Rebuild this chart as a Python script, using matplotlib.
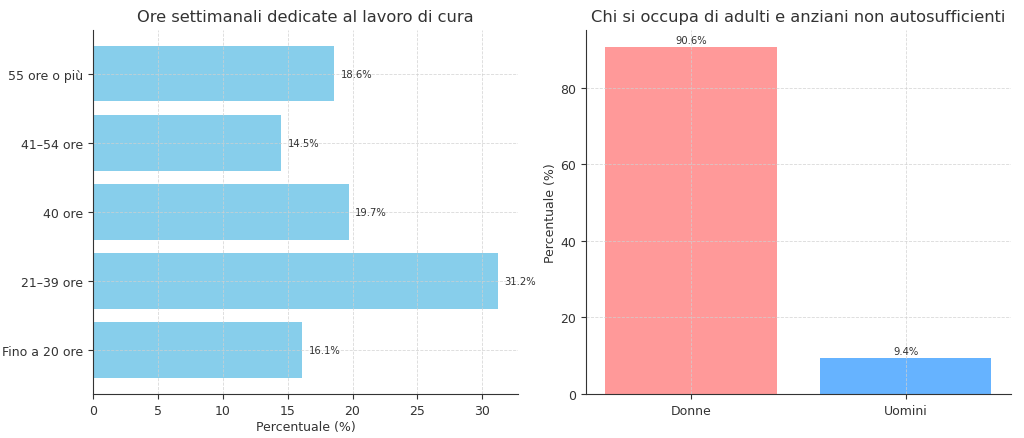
import matplotlib.pyplot as plt

ore_labels = ["Fino a 20 ore", "21–39 ore", "40 ore", "41–54 ore", "55 ore o più"]
ore_values = [16.1, 31.2, 19.7, 14.5, 18.6]

genere_labels = ["Donne", "Uomini"]
genere_values = [90.6, 9.4]
genere_colors = ["#ff9999", "#66b3ff"]

txt = "#333333"
plt.rcParams["text.color"] = txt
plt.rcParams["axes.labelcolor"] = txt
plt.rcParams["xtick.color"] = txt
plt.rcParams["ytick.color"] = txt
plt.rcParams["axes.edgecolor"] = txt
plt.rcParams["xtick.labelsize"] = 9
plt.rcParams["ytick.labelsize"] = 9
plt.rcParams["axes.labelsize"] = 9

fig, (ax1, ax2) = plt.subplots(1, 2, figsize=(10.24, 4.39), dpi=100)
fig.subplots_adjust(left=0.091, right=0.987, top=0.93, bottom=0.1, wspace=0.16)

# pannello sinistro
ax1.barh(ore_labels, ore_values, color="skyblue")
for i, v in enumerate(ore_values):
    ax1.text(v + 0.5, i, f"{v}%", va="center", fontsize=7.2)
ax1.set_xlim(0, max(ore_values) * 1.05)
ax1.set_xlabel("Percentuale (%)", labelpad=2)
ax1.set_title("Ore settimanali dedicate al lavoro di cura", fontsize=11.7)

# pannello destro
ax2.bar(genere_labels, genere_values, color=genere_colors)
for i, v in enumerate(genere_values):
    ax2.text(i, v + 0.5, f"{v}%", ha="center", va="bottom", fontsize=7.2)
ax2.set_ylim(0, max(genere_values) * 1.05)
ax2.set_ylabel("Percentuale (%)", labelpad=2)
ax2.set_title("Chi si occupa di adulti e anziani non autosufficienti", fontsize=11.7)

for ax in (ax1, ax2):
    ax.grid(True, linestyle="--", linewidth=0.6, color="#d0d0d0", alpha=0.8)
    ax.spines["top"].set_visible(False)
    ax.spines["right"].set_visible(False)

plt.savefig("out.png")
